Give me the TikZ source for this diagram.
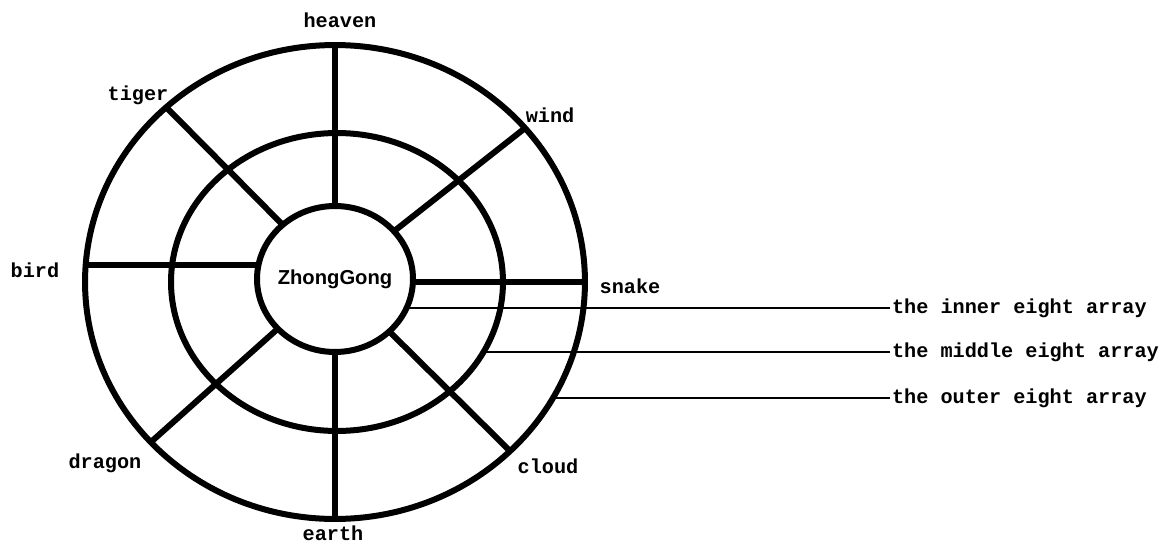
\documentclass[tikz,border=0pt]{standalone}
\usepackage{fontspec}
\usepackage{tikz}
\usetikzlibrary{shapes.geometric}
\newfontfamily\labelfont{Liberation Mono}
\newfontfamily\hubfont{Liberation Sans}

\begin{document}
\begin{tikzpicture}[
    x=0.02cm, y=0.02cm,
    ring/.style={ellipse, draw=black, line width=0.12cm, inner sep=0pt, outer sep=0pt},
    spoke/.style={line width=0.12cm},
    leader/.style={line width=0.8pt},
    namelbl/.style={font=\labelfont\bfseries\fontsize{11.5}{13}\selectfont, inner sep=1pt},
    arraylbl/.style={namelbl, anchor=west}
]
    \useasboundingbox (-335,-263) rectangle (830,282);

    % The three rings
    \node (outer) [ring, minimum width=10cm, minimum height=9.48cm] at (0,0) {};
    \node (middle) [ring, minimum width=6.64cm, minimum height=5.96cm] at (2,0) {};
    \node (inner) [ring, minimum width=3.12cm, minimum height=2.92cm] at (0,3) {};
    \node (hub) [font=\hubfont\bfseries\fontsize{11.5}{13}\selectfont] at (inner) {ZhongGong};

    % Eight spokes
    \draw [spoke] (outer.90) -- (inner.90);
    \draw [spoke] (outer.39) -- (inner.39);
    \draw [spoke] (inner.-2) -- (inner.-2 -| outer.east);
    \draw [spoke] (outer.-44) -- (inner.-44);
    \draw [spoke] (outer.270) -- (inner.270);
    \draw [spoke] (outer.221) -- (inner.221);
    \draw [spoke] (inner.170) -- (inner.170 -| outer.west);
    \draw [spoke] (outer.134) -- (inner.134);

    % Names round the outer ring
    \node (heaven) [namelbl] at (5,262) {heaven};
    \node (wind) [namelbl] at (215,167) {wind};
    \node (snake) [namelbl] at (295,-4) {snake};
    \node (cloud) [namelbl] at (213,-184) {cloud};
    \node (earth) [namelbl] at (-2,-251) {earth};
    \node (dragon) [namelbl] at (-230,-181) {dragon};
    \node (bird) [namelbl] at (-300,12) {bird};
    \node (tiger) [namelbl] at (-197,187) {tiger};

    % Array labels with leader lines
    \node (innerarr) [arraylbl] at (555,-26) {the inner eight array};
    \node (middlearr) [arraylbl] at (555,-70) {the middle eight array};
    \node (outerarr) [arraylbl] at (555,-116) {the outer eight array};
    \draw [leader] (innerarr.west) -- (innerarr.west -| inner.-22);
    \draw [leader] (middlearr.west) -- (middlearr.west -| middle.-25.5);
    \draw [leader] (outerarr.west) -- (outerarr.west -| outer.-28);

\end{tikzpicture}
\end{document}
